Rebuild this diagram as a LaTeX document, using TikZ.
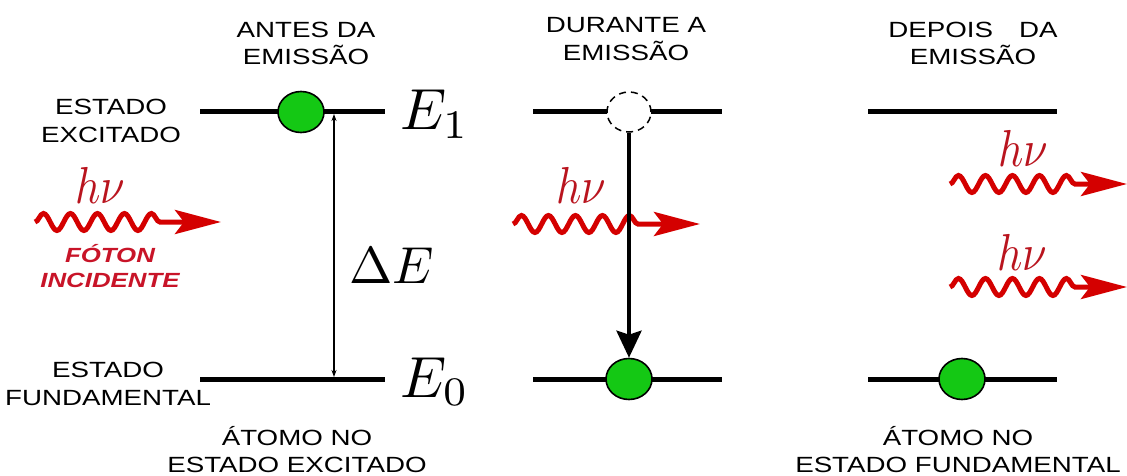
\documentclass[tikz,border=0pt]{standalone}
\usepackage{fontspec}
\newfontfamily\labfont[FakeStretch=1.26]{Liberation Sans}
\usetikzlibrary{arrows.meta,shapes.geometric,decorations.pathmorphing}
\definecolor{wavered}{RGB}{212,0,0}
\definecolor{hnured}{RGB}{185,20,30}
\definecolor{fotred}{RGB}{200,20,40}
\definecolor{elgreen}{RGB}{20,200,20}
\newcommand{\twolines}[3]{\fontsize{22}{#1}\selectfont\begin{tabular}[t]{@{}c@{}}#2\\#3\end{tabular}}
\newcommand{\hnu}{\scalebox{4.4}[5.2]{$h\nu$}}
\tikzset{
  lab/.style={anchor=base, inner sep=0pt, font=\labfont},
  level/.style={line width=5pt, black},
  electron/.style={ellipse, draw=black, line width=1.6pt, fill=elgreen, minimum width=46pt, minimum height=41pt, inner sep=0pt},
  ghost/.style={ellipse, draw=black, line width=1.5pt, dash pattern=on 7pt off 5pt, fill=white, minimum width=44pt, minimum height=40pt, inner sep=0pt},
  photon/.style={draw=wavered, line width=5pt, decorate,
    decoration={snake, segment length=27pt, amplitude=8.5pt, post length=#1},
    -{Stealth[length=46pt, width=24pt, inset=9pt]}},
  hnulab/.style={anchor=base, inner sep=0pt, text=hnured},
  elab/.style={anchor=base west, inner sep=0pt},
}
\begin{document}
\begin{tikzpicture}[x=1pt, y=-1pt]
\useasboundingbox (0,0) rectangle (1127,476);

% ---- level coordinates
\coordinate (a1l) at (200,112); \coordinate (a1r) at (385,112);
\coordinate (a0l) at (200,379); \coordinate (a0r) at (385,379);
\coordinate (b1l) at (533,112); \coordinate (b1r) at (722,112);
\coordinate (b0l) at (533,379); \coordinate (b0r) at (722,379);
\coordinate (c1l) at (868,112); \coordinate (c1r) at (1057,112);
\coordinate (c0l) at (868,379); \coordinate (c0r) at (1057,379);
\draw[level] (a1l) -- (a1r);
\draw[level] (a0l) -- (a0r);
\draw[level] (b1l) -- (b1r);
\draw[level] (b0l) -- (b0r);
\draw[level] (c1l) -- (c1r);
\draw[level] (c0l) -- (c0r);

% ---- electrons
\node[electron] (ea) at (301,112) {};
\node[ghost] (eb1) at (629,112) {};
\node[electron] (eb0) at (629,379) {};
\node[electron] (ec) at (962,379) {};

% ---- energy gap arrow
\coordinate (dtop) at (334,114);
\coordinate (dbot) at (334,377);
\draw[line width=1.3pt, {Stealth[length=7pt,width=5pt]}-{Stealth[length=7pt,width=5pt]}] (dtop) -- (dbot);

% ---- photons
\coordinate (pa0) at (35,222);  \coordinate (pa1) at (221,222);
\coordinate (pb0) at (513,224); \coordinate (pb1) at (700,224);
\coordinate (pc0) at (950,184); \coordinate (pc1) at (1127,184);
\coordinate (pd0) at (950,287); \coordinate (pd1) at (1127,287);
\draw[photon=54pt] (pa0) -- (pa1);
\draw[photon=52pt] (pb0) -- (pb1);
\draw[photon=40pt] (pc0) -- (pc1);
\draw[photon=40pt] (pd0) -- (pd1);

% ---- transition arrow
\draw[line width=4pt, -{Stealth[length=27pt, width=25pt, inset=4pt]}] (eb1.south) -- (eb0.north);

\node[hnulab] (ha) at (100,203) {\hnu};
\node[hnulab] (hb) at (581,203) {\hnu};
\node[hnulab] (hc) at (1023,167) {\hnu};
\node[hnulab] (hd) at (1022,270) {\hnu};

% ---- energy labels
\node[elab] (E1) at (400,130) {\scalebox{5.8}{$E_1$}};
\node[elab] (E0) at (400,397) {\scalebox{5.8}{$E_0$}};
\node[elab] (dE) at (349,283) {\scalebox{5.2}{$\Delta E$}};

% ---- text labels
\node[lab] (antes) at (306,38) {\twolines{25}{ANTES DA}{EMISSÃO}};
\node[lab] (durante) at (626,33) {\twolines{27}{DURANTE A}{EMISSÃO}};
\node[lab] (depois) at (973,38) {\twolines{25}{DEPOIS\hspace{26pt}DA}{EMISSÃO}};
\node[lab] (exc) at (111,115) {\twolines{28}{ESTADO}{EXCITADO}};
\node[lab] (fund) at (108,377) {\twolines{28}{ESTADO}{FUNDAMENTAL}};
\node[lab] (atexc) at (297,445) {\twolines{27}{ÁTOMO NO}{ESTADO EXCITADO}};
\node[lab] (atfund) at (958,445) {\twolines{27}{ÁTOMO NO}{ESTADO FUNDAMENTAL}};
\node[lab, text=fotred] (foton) at (110,262) {\bfseries\itshape\fontsize{20.5}{25}\selectfont\begin{tabular}[t]{@{}c@{}}FÓTON\\INCIDENTE\end{tabular}};
\end{tikzpicture}
\end{document}
